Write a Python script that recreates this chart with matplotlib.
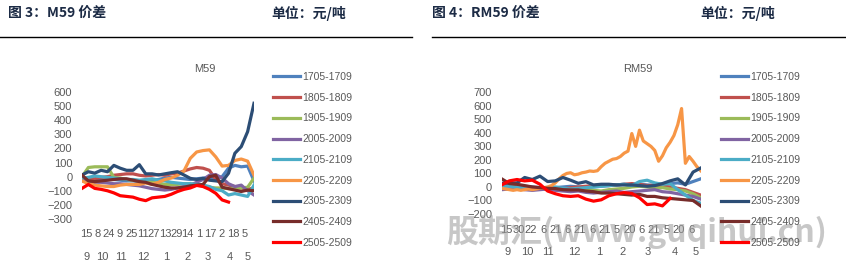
import numpy as np
import matplotlib.pyplot as plt
from matplotlib.lines import Line2D

plt.rcParams['font.family'] = ['Liberation Sans', 'Noto Sans CJK SC']

# ---- data (trading-day index within the season, value in 元/吨) ----
labels = ["1705-1709", "1805-1809", "1905-1909", "2005-2009", "2105-2109",
          "2205-2209", "2305-2309", "2405-2409", "2505-2509"]
colors = ["#4F81BD", "#C0504D", "#9BBB59", "#8064A2", "#4BACC6",
          "#F79646", "#2C4D75", "#772C2A", "#FF0000"]

m_x = np.arange(0, 163, 6)
m1705 = [-10, -20, -25, -20, -15, -20, -25, -30, -30, -35, -30, -25, -20, -10, -5, -10, -15, -20, -15, -10, -5, -10, 0, 60, 80, 70, 75, -30]
m1805 = [-20, -10, -15, -5, 0, 10, 15, 20, 20, 10, 5, 10, 15, 10, 20, 25, 40, 55, 65, 60, 45, -20, -50, -60, -70, -80, -90, -80]
m1905 = [0, 65, 70, 70, 70, -5, -10, -20, -25, -30, -35, -40, -45, -55, -55, -55, -50, -50, -60, -65, -75, -80, -80, -85, -85, -80, -75, -10]
m2005 = [-30, -35, -40, -40, -45, -50, -50, -55, -60, -65, -75, -85, -90, -95, -90, -80, -70, -60, -40, -20, 10, 15, -10, -50, -70, -60, -100, -130]
m2105 = [-10, -5, 5, 0, -5, -10, -15, -20, -20, -25, -20, -15, -25, -30, -40, -45, -50, -50, -55, -60, -70, -90, -100, -130, -120, -130, -140, -60]
m2205 = [-30, -50, -60, -65, -70, -70, -60, -55, -55, -55, -45, -55, -40, -20, -10, 10, 40, 130, 175, 185, 190, 140, 75, 80, 115, 125, 110, 10]
m2305 = [12, 35, 25, 45, 35, 80, 60, 45, 45, 85, 20, 20, 12, 20, 28, 35, 12, -12, -20, -12, -25, -30, -35, 24, 166, 213, 319, 520]
m2405 = [10, -30, -35, -30, -25, -20, -15, -15, -25, -35, -40, -55, -65, -75, -80, -80, -75, -65, -60, -55, 0, 10, -75, -85, -95, -105, -95, -100]
m2505 = [-83, -55, -83, -90, -100, -115, -135, -140, -145, -160, -170, -150, -145, -140, -125, -105, -90, -80, -62, -70, -90, -118, -165, -180]

rm_x = np.arange(0, 157, 6)
rm_x_fine = np.arange(0, 157, 3)
rm1705 = [-10, -5, 0, 5, 0, -5, -10, -5, 0, 5, 0, -5, 0, 5, 10, 15, 20, 15, 20, 15, 10, 20, 25, 30, 20, 40, 60]
rm1805 = [20, 10, 0, -10, -20, -15, -10, -20, -15, -5, 0, 5, 10, 15, 10, 15, 20, 25, 20, 10, 15, 5, 0, -10, -20, -40, -60]
rm1905 = [-5, 0, -5, -10, -5, -10, -15, -10, -20, -25, -20, -15, -25, -30, -20, -15, -10, 0, 5, 0, -10, -5, -15, -20, -30, -50, -80]
rm2005 = [-20, -15, -10, -20, -25, -20, -15, -25, -30, -35, -30, -40, -45, -40, -35, -30, -40, -35, -30, -25, -20, -35, -40, -50, -60, -70, -90]
rm2105 = [0, 5, -5, 0, -5, -10, -5, 0, -10, -15, -10, -5, 0, 5, 10, 15, 20, 10, 40, 50, 30, 20, 25, -20, -60, -100, -120]
rm2205 = [-10, -15, -20, -25, -20, -25, -20, -15, -20, -15, -10, -5, 0, 10, 30, 60, 85, 100, 105, 90,
          95, 105, 110, 118, 115, 120, 150, 175, 190, 205, 210, 225, 250, 265, 395, 300, 420, 340, 320, 300,
          270, 190, 230, 290, 330, 380, 460, 580, 175, 225, 190, 150, 120]
rm2305 = [27, 30, 30, 70, 55, 80, 40, 45, 70, 50, 27, 39, 15, 20, 20, 15, 15, 15, 10, 5, 10, 25, 45, 60, 15, 110, 140]
rm2405 = [60, 25, 20, 10, 0, -5, -10, -12, -20, -22, -22, -30, -35, -45, -45, -50, -55, -60, -55, -70, -70, -80, -85, -90, -95, -100, -140]
rm2505 = [15, 45, 55, 45, 50, 20, -30, -50, -65, -70, -65, -90, -105, -95, -65, -50, -42, -48, -80, -130, -125, -140, -85]

m_day_labels = ["15", "8", "24", "9", "25", "11", "27", "13", "29", "14", "1", "17", "2", "18", "5"]
rm_day_labels = ["15", "30", "22", "6", "21", "6", "21", "6", "21", "5", "20", "6", "21", "5", "20", "6"]
month_labels = ["9", "10", "11", "12", "1", "2", "3", "4", "5"]

W, H = 846, 262
fig = plt.figure(figsize=(W / 100, H / 100), dpi=100)
gray = "#595959"


def fx(px):
    return px / W


def fy(py):
    return 1 - py / H


# headers
head_kw = dict(fontsize=10, fontweight="bold", color="#1c2b45",
               family=["Noto Sans CJK SC"], va="center")
fig.text(fx(8), fy(13), "图 3：M59 价差", **head_kw)
fig.text(fx(271), fy(13), "单位：元/吨", **head_kw)
fig.text(fx(432), fy(13), "图 4：RM59 价差", **head_kw)
fig.text(fx(700), fy(13), "单位：元/吨", **head_kw)
fig.add_artist(Line2D([0, fx(412)], [fy(37), fy(37)], color="black", lw=1.0))
fig.add_artist(Line2D([fx(432), 1], [fy(37), fy(37)], color="black", lw=1.0))


def panel(box, xs, series, ylim, yticks, title, title_xy, day_pos, day_labels,
          month_pos, rows_y, legend_xy):
    ax = fig.add_axes(box)
    handles = []
    for (x, y), c, lab in zip(series, colors, labels):
        ln, = ax.plot(x[:len(y)], y, color=c, lw=2.3, label=lab,
                      solid_joinstyle="round")
        handles.append(ln)
    ax.set_xlim(xs)
    ax.set_ylim(ylim)
    ax.set_yticks(yticks)
    ax.set_xticks([])
    for s in ax.spines.values():
        s.set_visible(False)
    ax.tick_params(axis="y", length=0, pad=7, labelsize=8, labelcolor=gray)
    tr = ax.get_xaxis_transform()
    for p, t in zip(day_pos, day_labels):
        ax.text(p, rows_y[0], t, transform=tr, ha="center", va="center",
                fontsize=8, color=gray)
    for p, t in zip(month_pos, month_labels):
        ax.text(p, rows_y[1], t, transform=tr, ha="center", va="center",
                fontsize=8, color=gray)
    fig.text(fx(title_xy[0]), fy(title_xy[1]), title, ha="center",
             va="center", fontsize=8, color=gray)
    fig.legend(handles=handles, loc="upper left",
               bbox_to_anchor=(fx(legend_xy[0]), fy(legend_xy[1])),
               frameon=False, fontsize=7.5, labelcolor=gray,
               handlelength=2.6, handletextpad=0.25, labelspacing=1.03,
               borderpad=0, borderaxespad=0)
    return ax


m_series = [(m_x, m1705), (m_x, m1805), (m_x, m1905), (m_x, m2005), (m_x, m2105),
            (m_x, m2205), (m_x, m2305), (m_x, m2405), (m_x, m2505)]
panel([fx(82), fy(219), fx(254) - fx(82), fy(92) - fy(219)], (0, 162),
      m_series, (-300, 600), np.arange(-300, 601, 100), "M59", (205, 69),
      np.linspace(3.8, 152.8, 15), m_day_labels,
      [4.7, 18.9, 36.8, 57.5, 79.2, 99, 118.8, 139.5, 156.4],
      (-0.118, -0.299), (273, 72))

rm_series = [(rm_x, rm1705), (rm_x, rm1805), (rm_x, rm1905), (rm_x, rm2005),
             (rm_x, rm2105), (rm_x_fine, rm2205), (rm_x, rm2305), (rm_x, rm2405),
             (rm_x, rm2505)]
panel([fx(501.7), fy(214), fx(700.7) - fx(501.7), fy(92.3) - fy(214)], (0, 156),
      rm_series, (-200, 700), np.arange(-200, 701, 100), "RM59", (638, 69),
      np.linspace(3.4, 148.4, 16), rm_day_labels,
      [4.9, 19.8, 36.3, 56.7, 76.3, 95.1, 114.7, 135.9, 152.4],
      (-0.131, -0.312), (721, 72))

# watermark
fig.text(fx(637), fy(232), "股期汇(www.guqihui.cn)", ha="center", va="center",
         fontsize=23, fontweight="bold", style="italic", color="#9a9a9a",
         alpha=0.55, family=["Noto Sans CJK SC", "DejaVu Sans"])

fig.savefig("out.png", dpi=100)
